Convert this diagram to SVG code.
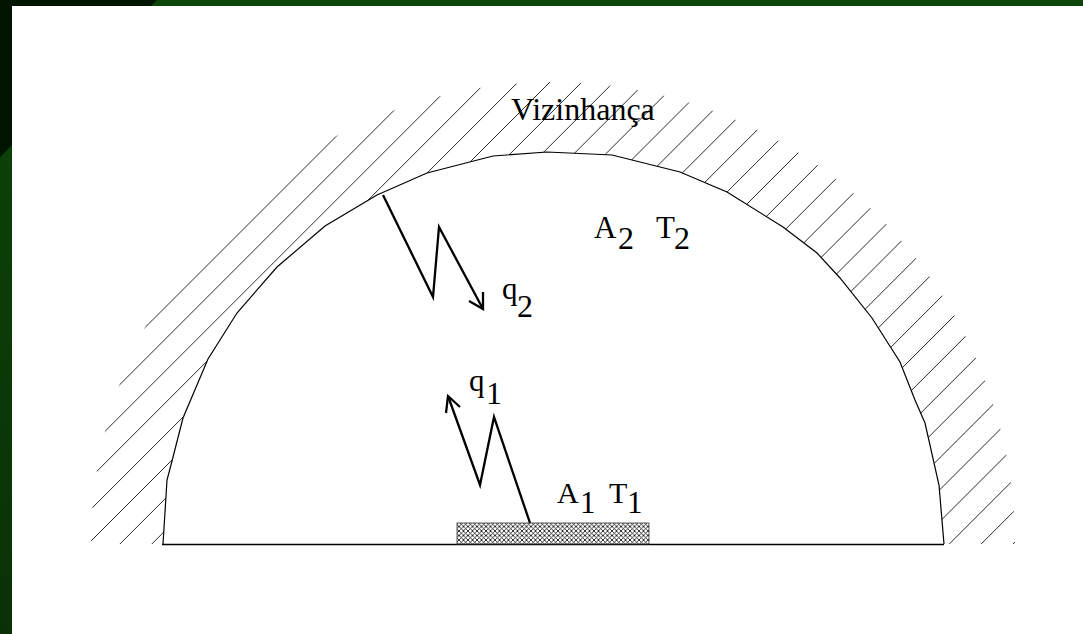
<svg xmlns="http://www.w3.org/2000/svg" width="1083" height="634" viewBox="0 0 1083 634">
<style>
.txt{font-family:"Liberation Serif","Times New Roman",serif;fill:#000}
.hatch{fill:none;stroke:#2a2a2a;stroke-width:1}
.arrow{fill:none;stroke:#000;stroke-width:2.3;stroke-linejoin:miter}
.outline{fill:none;stroke:#000;stroke-width:1.2}
</style>
<defs>
<linearGradient id="leftg" x1="0" y1="0" x2="0" y2="1">
<stop offset="0" stop-color="#0c4508"/>
<stop offset="1" stop-color="#0a3106"/>
</linearGradient>
<pattern id="xhatch" patternUnits="userSpaceOnUse" width="4.5" height="4.5">
<rect width="4.5" height="4.5" fill="#fff"/>
<path d="M0 0L4.5 4.5M0 4.5L4.5 0" stroke="#000" stroke-width="0.8"/>
</pattern>
<clipPath id="ring">
<path clip-rule="evenodd" d="M91 544A462 462 0 0 1 1015 544Z M163 544L167 480L172 461L183 418L208 359L237 313L277 267L325 226L377 195L427 173L493 156L547 152L612 155L680 172L727 192L783 227L817 253L840 278L872 318L900 362L915 400L925 423L939 485L944 544Z"/>
</clipPath>
</defs>
<g id="background">
<rect x="0" y="0" width="1083" height="634" fill="#0c4508"/>
<rect x="0" y="0" width="12" height="634" fill="url(#leftg)"/>
<polygon points="0,0 157,0 0,157" fill="#001400"/>
<rect x="12" y="6" width="1071" height="628" fill="#fff"/>
</g>
<g id="surroundings">
<path class="hatch" clip-path="url(#ring)" d="M-87.5 560l500-500M-55.6 560l500-500M-23.7 560l500-500M8.2 560l500-500M40.1 560l500-500M72 560l500-500M103.9 560l500-500M135.8 560l500-500M167.7 560l500-500M199.6 560l500-500M231.5 560l500-500M263.4 560l500-500M295.3 560l500-500M327.2 560l500-500M359.1 560l500-500M391 560l500-500M422.9 560l500-500M454.8 560l500-500M486.7 560l500-500M518.6 560l500-500M550.5 560l500-500M582.4 560l500-500M614.3 560l500-500M646.2 560l500-500M678.1 560l500-500M710 560l500-500M741.9 560l500-500M773.8 560l500-500M805.7 560l500-500M837.6 560l500-500M869.5 560l500-500M901.4 560l500-500M933.3 560l500-500M965.2 560l500-500M997.1 560l500-500"/>
<polyline class="outline" points="163,544 167,480 172,461 183,418 208,359 237,313 277,267 325,226 377,195 427,173 493,156 547,152 612,155 680,172 727,192 783,227 817,253 840,278 872,318 900,362 915,400 925,423 939,485 944,544"/>
<line x1="162" y1="544.5" x2="944" y2="544.5" stroke="#000" stroke-width="1.6"/>
<text class="txt" x="511" y="120" font-size="32">Vizinhança</text>
</g>
<g id="surface1">
<rect x="457" y="523" width="192" height="21" fill="url(#xhatch)" stroke="#333" stroke-width="0.8"/>
<text class="txt" x="557" y="503" font-size="30">A</text>
<text class="txt" x="580" y="513" font-size="31">1</text>
<text class="txt" x="609" y="503" font-size="30">T</text>
<text class="txt" x="627" y="513" font-size="31">1</text>
</g>
<g id="surface2">
<text class="txt" x="594" y="238" font-size="31">A</text>
<text class="txt" x="618" y="249" font-size="32">2</text>
<text class="txt" x="656" y="238" font-size="31">T</text>
<text class="txt" x="674" y="249" font-size="32">2</text>
</g>
<g id="connectors">
<polyline class="arrow" points="383,195 433,297 439,227 483,309"/>
<polyline class="arrow" points="469,301 483,309 483,292"/>
<polyline class="arrow" points="530,523 494,417 480,485 448,396"/>
<polyline class="arrow" points="446,413 448,396 460,407"/>
<text class="txt" x="502" y="299" font-size="31">q</text>
<text class="txt" x="517" y="317" font-size="32">2</text>
<text class="txt" x="469" y="391" font-size="31">q</text>
<text class="txt" x="486" y="404" font-size="32">1</text>
</g>
</svg>
